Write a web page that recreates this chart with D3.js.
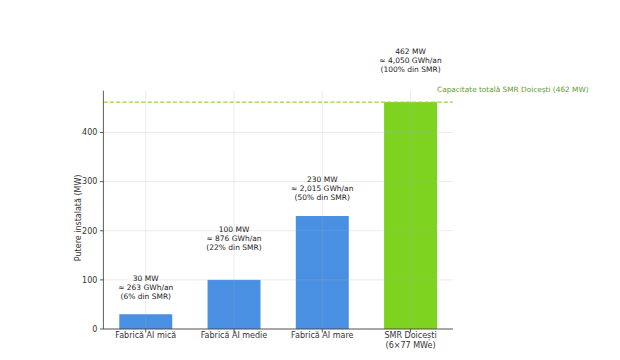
<!DOCTYPE html>
<html><head><meta charset="utf-8">
<script src="https://cdn.jsdelivr.net/npm/d3@7"></script>
<style>body{margin:0;background:#fff}svg{display:block}text{font-family:"DejaVu Sans",sans-serif}</style>
</head><body>
<svg id="c" width="620" height="360"></svg>
<script>
const categories = ["Fabrică AI mică", "Fabrică AI medie", "Fabrică AI mare", "SMR Doicești\n(6×77 MWe)"];
const powerMW = [30, 100, 230, 462];
const energyLabels = ["≈ 263 GWh/an", "≈ 876 GWh/an", "≈ 2,015 GWh/an", "≈ 4,050 GWh/an"];
const shareLabels = ["(6% din SMR)", "(22% din SMR)", "(50% din SMR)", "(100% din SMR)"];
const yTicks = [0, 100, 200, 300, 400];
const smrTotal = 462;
const refLabel = "Capacitate totală SMR Doicești (462 MW)";
const yLabel = "Putere instalată (MW)";

const colors = ["#4a90e2", "#4a90e2", "#4a90e2", "#7ed321"];
const labelGap = [18, 33, 19, 33];

const svg = d3.select("#c");
const L = 103.4, R = 452.9, T = 90.7, B = 329;
const x = d3.scalePoint().domain(categories).range([L, R]).padding(0.48 / (3.96 - 0.96) * 3 / 3);
const step = (R - L) / 3.96;
const xs = d3.scaleLinear().domain([-0.48, 3.48]).range([L, R]);
const xc = i => xs(i);
const bw = step * 0.6;
const y = d3.scaleLinear().domain([0, smrTotal * 1.05]).range([B, T]);

// bars
svg.selectAll("rect.bar").data(powerMW).enter().append("rect")
  .attr("x", (d, i) => xc(i) - bw / 2).attr("width", bw)
  .attr("y", d => y(d)).attr("height", d => B - y(d))
  .attr("fill", (d, i) => colors[i]);

// grid
const g = svg.append("g");
yTicks.forEach(t => g.append("line").attr("x1", L).attr("x2", R).attr("y1", y(t)).attr("y2", y(t))
  .attr("stroke", "#b0b0b0").attr("stroke-opacity", 0.3).attr("stroke-width", 0.8));
categories.forEach((c, i) => g.append("line").attr("x1", xc(i)).attr("x2", xc(i)).attr("y1", T).attr("y2", B)
  .attr("stroke", "#b0b0b0").attr("stroke-opacity", 0.3).attr("stroke-width", 0.8));

// reference line
svg.append("line").attr("x1", L).attr("x2", R).attr("y1", y(smrTotal)).attr("y2", y(smrTotal))
  .attr("stroke", "#9fd63f").attr("stroke-width", 1.2).attr("stroke-dasharray", "4.4,1.9");
svg.append("text").attr("x", 437).attr("y", 89.5).attr("dy", "0.35em")
  .attr("font-size", 7.35).attr("fill", "#5f9a2e").text(refLabel);

// value labels
powerMW.forEach((v, i) => {
  const lines = [v + " MW", energyLabels[i], shareLabels[i]];
  const bottom = y(v) - labelGap[i];
  lines.forEach((ln, k) => {
    svg.append("text").attr("x", xc(i)).attr("y", bottom - (2 - k) * 8.8).attr("dy", "0.35em")
      .attr("text-anchor", "middle").attr("font-size", 7.5).attr("fill", "#222").text(ln);
  });
});

// axes
const ax = "#333";
svg.append("line").attr("x1", L).attr("x2", L).attr("y1", T).attr("y2", B).attr("stroke", ax).attr("stroke-width", 0.8);
svg.append("line").attr("x1", L).attr("x2", R).attr("y1", B).attr("y2", B).attr("stroke", ax).attr("stroke-width", 0.8);
yTicks.forEach(t => {
  svg.append("line").attr("x1", L - 3.5).attr("x2", L).attr("y1", y(t)).attr("y2", y(t)).attr("stroke", ax).attr("stroke-width", 0.8);
  svg.append("text").attr("x", L - 6).attr("y", y(t)).attr("dy", "0.35em").attr("text-anchor", "end")
    .attr("font-size", 8).attr("fill", "#333").text(t);
});
categories.forEach((c, i) => {
  svg.append("line").attr("x1", xc(i)).attr("x2", xc(i)).attr("y1", B).attr("y2", B + 3.5).attr("stroke", ax).attr("stroke-width", 0.8);
  c.split("\n").forEach((ln, k) => {
    svg.append("text").attr("x", xc(i)).attr("y", 335 + k * 9.7).attr("dy", "0.35em").attr("text-anchor", "middle")
      .attr("font-size", 8).attr("fill", "#333").text(ln);
  });
});
svg.append("text").attr("transform", `translate(78,${(T + B) / 2 + 8}) rotate(-90)`).attr("dy", "0.35em")
  .attr("text-anchor", "middle").attr("font-size", 8).attr("fill", "#333").text(yLabel);
</script>
</body></html>
